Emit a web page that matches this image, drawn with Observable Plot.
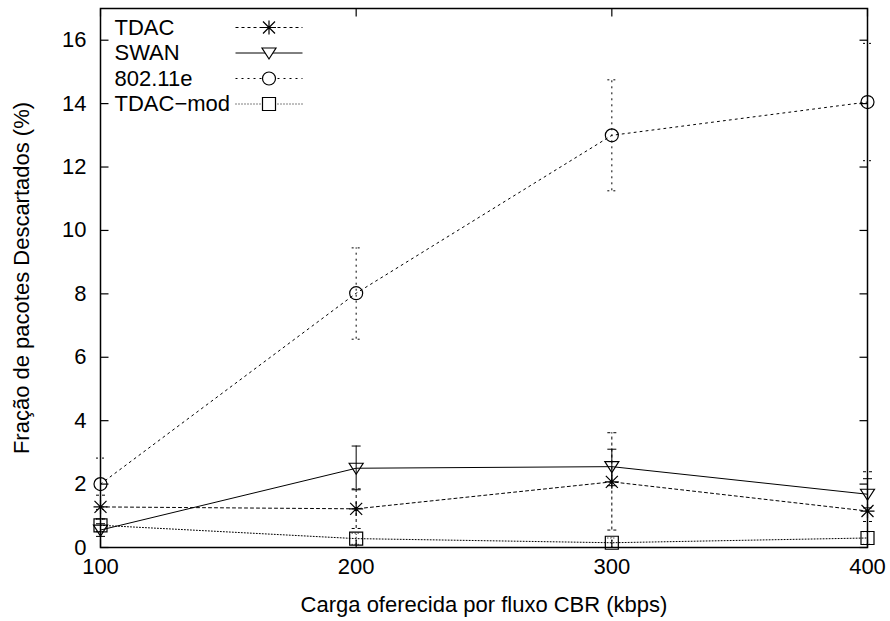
<!DOCTYPE html>
<html>
<head>
<meta charset="utf-8">
<script src="https://cdn.jsdelivr.net/npm/d3@7"></script>
<script src="https://cdn.jsdelivr.net/npm/@observablehq/plot@0.6"></script>
<style>
  html, body { margin: 0; padding: 0; background: #fff; }
  #chart svg { display: block; }
</style>
</head>
<body>
<div id="chart"></div>
<script>
// ---- data ----
const loads = [100, 200, 300, 400];
const seriesNames = ["TDAC", "SWAN", "802.11e", "TDAC\u2212mod"];
const tdac     = [1.28, 1.22, 2.07, 1.15];
const tdacLo   = [0.90, 0.60, 0.55, 0.82];
const tdacHi   = [1.65, 1.85, 3.62, 2.39];
const swan     = [0.55, 2.50, 2.55, 1.68];
const swanLo   = [0.35, 1.82, 1.95, 1.25];
const swanHi   = [0.75, 3.20, 3.10, 2.17];
const e80211   = [2.00, 8.02, 13.00, 14.05];
const e80211Lo = [1.20, 6.57, 11.25, 12.20];
const e80211Hi = [2.82, 9.45, 14.75, 15.90];
const tdacMod   = [0.70, 0.28, 0.15, 0.30];
const tdacModLo = [0.50, 0.10, 0.00, 0.10];
const tdacModHi = [0.90, 0.45, 0.30, 0.50];
const xTicks = [100, 200, 300, 400];
const yTicks = [0, 2, 4, 6, 8, 10, 12, 14, 16];
const xLabel = "Carga oferecida por fluxo CBR (kbps)";
const yLabel = "Fração de pacotes Descartados (%)";

// ---- symbols ----
const sym = (f) => ({draw(c) { f(c); }});
const tickRight = sym(c => { c.moveTo(0, 0); c.lineTo(8, 0); });
const tickLeft  = sym(c => { c.moveTo(0, 0); c.lineTo(-8, 0); });
const tickUp    = sym(c => { c.moveTo(0, 0); c.lineTo(0, -8); });
const tickDown  = sym(c => { c.moveTo(0, 0); c.lineTo(0, 8); });
const cap       = sym(c => { c.moveTo(-4.5, 0); c.lineTo(4.5, 0); });
const star = sym(c => {
  c.moveTo(-7, 0); c.lineTo(7, 0);
  c.moveTo(0, -7); c.lineTo(0, 7);
  c.moveTo(-6, -6); c.lineTo(6, 6);
  c.moveTo(-6, 6); c.lineTo(6, -6);
});
const triDown = sym(c => { c.moveTo(-7, -5); c.lineTo(7, -5); c.lineTo(0, 6); c.closePath(); });
const circ = sym(c => { c.moveTo(6.5, 0); c.arc(0, 0, 6.5, 0, 2 * Math.PI); });
const sq = sym(c => { c.moveTo(-6.5, -6.5); c.lineTo(6.5, -6.5); c.lineTo(6.5, 6.5); c.lineTo(-6.5, 6.5); c.closePath(); });
const legendLine = sym(c => { c.moveTo(-33.5, 0); c.lineTo(33.5, 0); });

const series = [
  {name: seriesNames[0], v: tdac,    lo: tdacLo,    hi: tdacHi,    dash: "3,3", symbol: star},
  {name: seriesNames[1], v: swan,    lo: swanLo,    hi: swanHi,    dash: null,  symbol: triDown},
  {name: seriesNames[2], v: e80211,  lo: e80211Lo,  hi: e80211Hi,  dash: "2,4", symbol: circ},
  {name: seriesNames[3], v: tdacMod, lo: tdacModLo, hi: tdacModHi, dash: "1,2", symbol: sq}
];

const FS = 22;
const marks = [];
// ticks (inward, mirrored)
marks.push(Plot.dot(yTicks, {x: () => 100, y: d => d, symbol: tickRight, stroke: "black", strokeWidth: 1.2}));
marks.push(Plot.dot(yTicks, {x: () => 400, y: d => d, symbol: tickLeft, stroke: "black", strokeWidth: 1.2}));
marks.push(Plot.dot(xTicks, {x: d => d, y: () => 0, symbol: tickUp, stroke: "black", strokeWidth: 1.2}));
marks.push(Plot.dot(xTicks, {x: d => d, y: () => 17, symbol: tickDown, stroke: "black", strokeWidth: 1.2}));
// tick labels
marks.push(Plot.axisY(yTicks, {tickSize: 0, tickPadding: 14, fontSize: FS, label: null, tickFormat: d => String(d)}));
marks.push(Plot.axisX(xTicks, {tickSize: 0, tickPadding: 11, fontSize: FS, label: null, tickFormat: d => String(d)}));
// axis titles
marks.push(Plot.text([yLabel], {frameAnchor: "left", dx: -79, rotate: -90, fontSize: FS, text: d => d, textAnchor: "middle", lineAnchor: "middle"}));
marks.push(Plot.text([xLabel], {frameAnchor: "bottom", dy: 57, fontSize: FS, text: d => d, textAnchor: "middle", lineAnchor: "middle"}));

// series
series.forEach((s, si) => {
  const rows = loads.map((x, i) => ({x, v: s.v[i], lo: s.lo[i], hi: s.hi[i]}));
  const dashOpt = s.dash ? {strokeDasharray: s.dash} : {};
  marks.push(Plot.ruleX(rows, {x: "x", y1: "lo", y2: "hi", stroke: "black", strokeWidth: 1, ...dashOpt}));
  marks.push(Plot.dot(rows, {x: "x", y: "lo", symbol: cap, stroke: "black", strokeWidth: 1, ...dashOpt}));
  marks.push(Plot.dot(rows, {x: "x", y: "hi", symbol: cap, stroke: "black", strokeWidth: 1, ...dashOpt}));
  marks.push(Plot.line(rows, {x: "x", y: "v", stroke: "black", strokeWidth: 1, ...dashOpt}));
  marks.push(Plot.dot(rows, {x: "x", y: "v", symbol: s.symbol, stroke: "black", fill: "none", strokeWidth: 1.2}));
  // legend entry
  const dy = 19 + si * 25.5;
  marks.push(Plot.text([s.name], {frameAnchor: "top-left", dx: 14, dy, text: d => d, fontSize: FS, textAnchor: "start", lineAnchor: "middle"}));
  marks.push(Plot.dot([s.name], {frameAnchor: "top-left", dx: 168.5, dy, symbol: legendLine, stroke: "black", strokeWidth: 1, ...dashOpt}));
  marks.push(Plot.dot([s.name], {frameAnchor: "top-left", dx: 168.5, dy, symbol: s.symbol, stroke: "black", fill: "white", strokeWidth: 1.2}));
});

marks.push(Plot.frame({stroke: "black", strokeWidth: 1.5}));

const chart = Plot.plot({
  width: 890,
  height: 621,
  marginLeft: 100,
  marginRight: 23,
  marginTop: 8,
  marginBottom: 74,
  style: {fontFamily: "'Liberation Sans', Arial, Helvetica, sans-serif", fontSize: FS + "px", color: "black", background: "white"},
  x: {type: "linear", domain: [100, 400]},
  y: {type: "linear", domain: [0, 17]},
  marks
});
document.getElementById("chart").appendChild(chart);
</script>
</body>
</html>
